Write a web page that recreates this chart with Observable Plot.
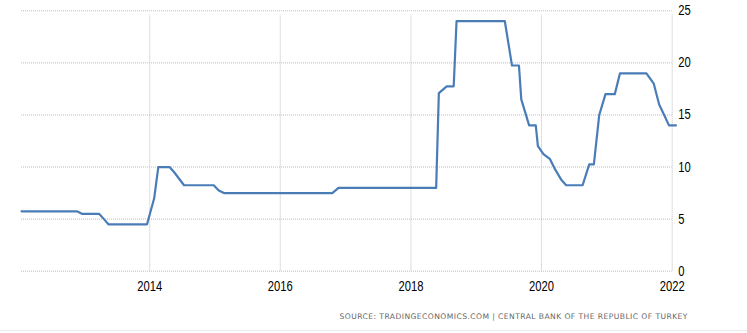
<!DOCTYPE html>
<html>
<head>
<meta charset="utf-8">
<script src="https://cdn.jsdelivr.net/npm/d3@7"></script>
<script src="https://cdn.jsdelivr.net/npm/@observablehq/plot@0.6"></script>
<style>
  html, body { margin: 0; padding: 0; background: #fff; }
  #wrap { position: relative; width: 747px; height: 333px; overflow: hidden; }
  #source { position: absolute; left: 0; top: 309px; }
  #bottomline { position: absolute; left: 0; top: 330px; width: 747px; height: 1px; background: #ececec; }
</style>
</head>
<body>
<div id="wrap">
  <div id="chart"></div>
  <svg id="source" width="747" height="14"></svg>
  <div id="bottomline"></div>
</div>
<script>
// Turkey interest rate (%)
const dates = [
  "2012-01-15","2012-11-20","2012-12-20","2013-03-25","2013-04-20","2013-05-15",
  "2013-12-17","2014-01-26","2014-02-18","2014-04-22","2014-05-18","2014-07-12",
  "2014-12-25","2015-01-22","2015-02-20","2016-10-18","2016-11-22","2018-05-22",
  "2018-06-06","2018-07-20","2018-08-28","2018-09-13","2019-06-10","2019-07-20",
  "2019-08-28","2019-09-10","2019-10-24","2019-11-30","2019-12-12","2020-01-12",
  "2020-02-18","2020-03-18","2020-04-22","2020-05-18","2020-08-18","2020-09-24",
  "2020-10-20","2020-11-19","2020-12-24","2021-02-14","2021-03-15","2021-08-10",
  "2021-09-20","2021-10-20","2021-11-17","2021-12-14","2022-01-22"
];
const rates = [
  5.75, 5.75, 5.5, 5.5, 5.0, 4.5,
  4.5, 7.0, 10, 10, 9.5, 8.25,
  8.25, 7.75, 7.5, 7.5, 8.0, 8.0,
  17.1, 17.75, 17.75, 24, 24, 19.75,
  19.75, 16.5, 14, 14, 12, 11.25,
  10.75, 9.75, 8.75, 8.25, 8.25, 10.25,
  10.25, 15, 17, 17, 19, 19,
  18, 16, 15, 14, 14
];
const xTickYears = [2014, 2016, 2018, 2020, 2022];
const yTicks = [0, 5, 10, 15, 20, 25];
const sourceText = "SOURCE: TRADINGECONOMICS.COM | CENTRAL BANK OF THE REPUBLIC OF TURKEY";

const data = dates.map((d, i) => ({date: new Date(d + "T00:00:00Z"), value: rates[i]}));
const xTicks = xTickYears.map(y => new Date(Date.UTC(y, 0, 1)));

const gridStyle = {stroke: "#bdbdbd", strokeWidth: 1, strokeDasharray: "1,1"};

const chart = Plot.plot({
  width: 747,
  height: 300,
  marginLeft: 21,
  marginRight: 75.3,
  marginTop: 10.3,
  marginBottom: 29.3,
  style: {fontFamily: "'Liberation Sans', Arial, sans-serif", fontSize: "14px", color: "#000", background: "#fff", overflow: "visible"},
  x: {type: "utc", domain: [new Date(Date.UTC(2012, 0, 15)), new Date(Date.UTC(2022, 0, 1))]},
  y: {domain: [0, 25]},
  marks: [
    Plot.ruleY(yTicks, {...gridStyle}),
    Plot.ruleX(xTicks, {y1: 0, y2: 25, insetBottom: -4, ...gridStyle}),
    Plot.axisX(xTicks, {tickSize: 0, tickPadding: 9.5, tickFormat: d => String(d.getUTCFullYear()), label: null, fill: "#000"}),
    Plot.axisY(yTicks, {anchor: "right", tickSize: 0, tickPadding: 6, tickFormat: d => String(d), label: null, fill: "#000", textAnchor: "start"}),
    Plot.line(data, {x: "date", y: "value", stroke: "#4a7db8", strokeWidth: 2.2, strokeLinejoin: "round"})
  ]
});
document.getElementById("chart").appendChild(chart);

// condense tick label glyphs horizontally to match the narrow face of the reference
chart.querySelectorAll('g[aria-label="x-axis tick label"] text, g[aria-label="y-axis tick label"] text').forEach(t => {
  const tr = t.getAttribute("transform") || "";
  t.setAttribute("transform", tr + " scale(0.8,1)");
});

const src = d3.select("#source");
src.append("text")
  .attr("x", 687.5)
  .attr("y", 10)
  .attr("text-anchor", "end")
  .attr("textLength", 348)
  .attr("lengthAdjust", "spacing")
  .attr("font-family", "'DejaVu Sans', Tahoma, sans-serif")
  .attr("font-size", "7.6px")
  .attr("fill", "#666")
  .text(sourceText);
</script>
</body>
</html>
